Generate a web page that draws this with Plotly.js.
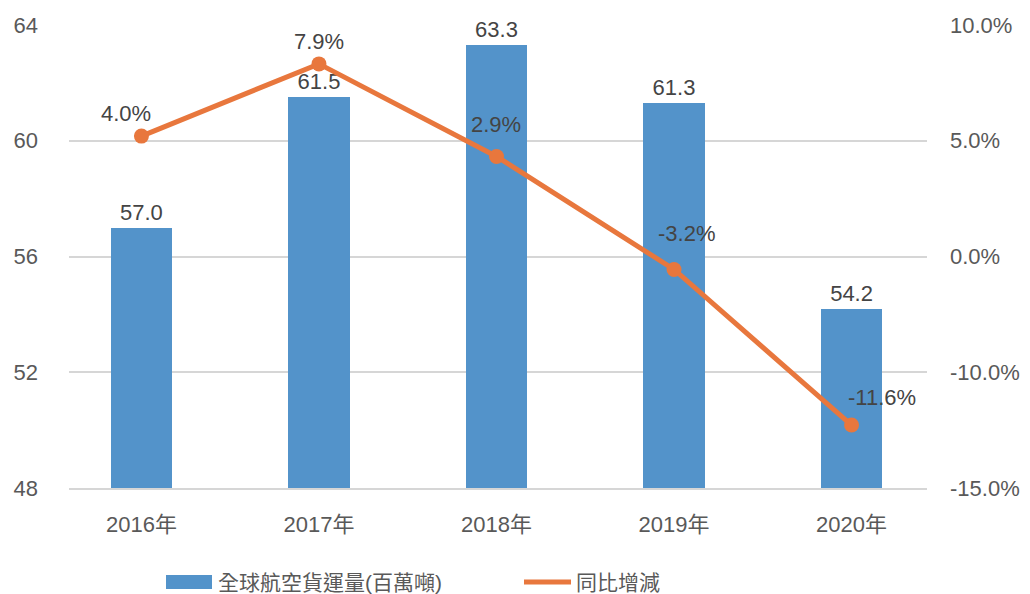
<!DOCTYPE html>
<html>
<head>
<meta charset="utf-8">
<script src="https://cdn.plot.ly/plotly-3.0.1.min.js"></script>
<style>html,body{margin:0;padding:0;background:#fff;}#chart{width:1030px;height:594px;}</style>
</head>
<body>
<div id="chart"></div>
<script>
// ---- data ----
const years = ['2016年', '2017年', '2018年', '2019年', '2020年'];
const cargo = [57.0, 61.5, 63.3, 61.3, 54.2];
const growth = [4.0, 7.9, 2.9, -3.2, -11.6];
const leftTicks = [48, 52, 56, 60, 64];
const rightTickText = ['-15.0%', '-10.0%', '0.0%', '5.0%', '10.0%'];
const seriesNames = ['全球航空貨運量(百萬噸)', '同比增減'];

// ---- style / layout ----
const FONT = 'Liberation Sans, Arial, Noto Sans CJK TC, sans-serif';
const TXT = '#595959';
const BLUE = '#5393CA';
const ORANGE = '#E8773D';
const GRID = '#D6D6D6';
const M = {l: 69, r: 103, t: 25, b: 106};
const W = 1030, H = 594;
const PW = W - M.l - M.r, PH = H - M.t - M.b;
const px2x = p => (p - M.l) / PW;
const py2y = p => (H - M.b - p) / PH;

const rightRange = [-15, 10];
const rightTickVals = rightTickText.map((_, i) => rightRange[0] + i * (rightRange[1] - rightRange[0]) / (rightTickText.length - 1));

// growth label offsets (pixels)
const labelDX = [-15, 0, 0, 12, 30];
const labelDY = [23, 22, 32, 36, 28];

const traces = [
  {
    type: 'bar', x: years, y: cargo, name: seriesNames[0],
    marker: {color: BLUE}, width: 0.344,
    text: cargo.map(v => v.toFixed(1)), textposition: 'outside',
    textfont: {family: FONT, size: 22, color: '#444444'},
    cliponaxis: false, constraintext: 'none', hoverinfo: 'skip', showlegend: false
  },
  {
    type: 'scatter', mode: 'lines+markers', x: years, y: growth, yaxis: 'y2', name: seriesNames[1],
    line: {color: ORANGE, width: 5}, marker: {color: ORANGE, size: 15},
    cliponaxis: false, hoverinfo: 'skip', showlegend: false
  }
];

const annotations = growth.map((v, i) => ({
  x: years[i], y: v, xref: 'x', yref: 'y2', text: v.toFixed(1) + '%',
  showarrow: false, xshift: labelDX[i], yshift: labelDY[i],
  font: {family: FONT, size: 22, color: '#444444'}
}));

// custom legend
annotations.push({
  xref: 'paper', yref: 'paper', x: px2x(216), y: py2y(582), xanchor: 'left', yanchor: 'middle',
  text: seriesNames[0], showarrow: false, font: {family: FONT, size: 21, color: TXT}
});
annotations.push({
  xref: 'paper', yref: 'paper', x: px2x(574), y: py2y(582), xanchor: 'left', yanchor: 'middle',
  text: seriesNames[1], showarrow: false, font: {family: FONT, size: 21, color: TXT}
});

const shapes = [
  {type: 'rect', xref: 'paper', yref: 'paper', x0: px2x(166), x1: px2x(212), y0: py2y(575), y1: py2y(589),
   fillcolor: BLUE, line: {width: 0}},
  {type: 'line', xref: 'paper', yref: 'paper', x0: px2x(524), x1: px2x(571), y0: py2y(582), y1: py2y(582),
   line: {color: ORANGE, width: 5}}
];

const layout = {
  width: W, height: H, autosize: false, margin: M,
  paper_bgcolor: '#ffffff', plot_bgcolor: '#ffffff',
  font: {family: FONT, size: 22, color: TXT},
  showlegend: false, bargap: 0,
  xaxis: {
    type: 'category', range: [-0.408, 4.425], showgrid: false, zeroline: false,
    showline: true, linecolor: GRID, linewidth: 2, ticks: '',
    tickfont: {family: FONT, size: 22, color: TXT}, ticklabelstandoff: 16, fixedrange: true
  },
  yaxis: {
    range: [48, 64], tickvals: leftTicks, showgrid: true, gridcolor: GRID, gridwidth: 2,
    zeroline: false, showline: false, ticks: '',
    tickfont: {family: FONT, size: 22, color: TXT}, ticklabelstandoff: 30, fixedrange: true
  },
  yaxis2: {
    overlaying: 'y', side: 'right', range: rightRange, tickvals: rightTickVals, ticktext: rightTickText,
    showgrid: false, zeroline: false, showline: false, ticks: '',
    tickfont: {family: FONT, size: 22, color: TXT}, ticklabelstandoff: 22, fixedrange: true
  },
  annotations: annotations,
  shapes: shapes
};

Plotly.newPlot('chart', traces, layout, {displayModeBar: false, staticPlot: true});
</script>
</body>
</html>
